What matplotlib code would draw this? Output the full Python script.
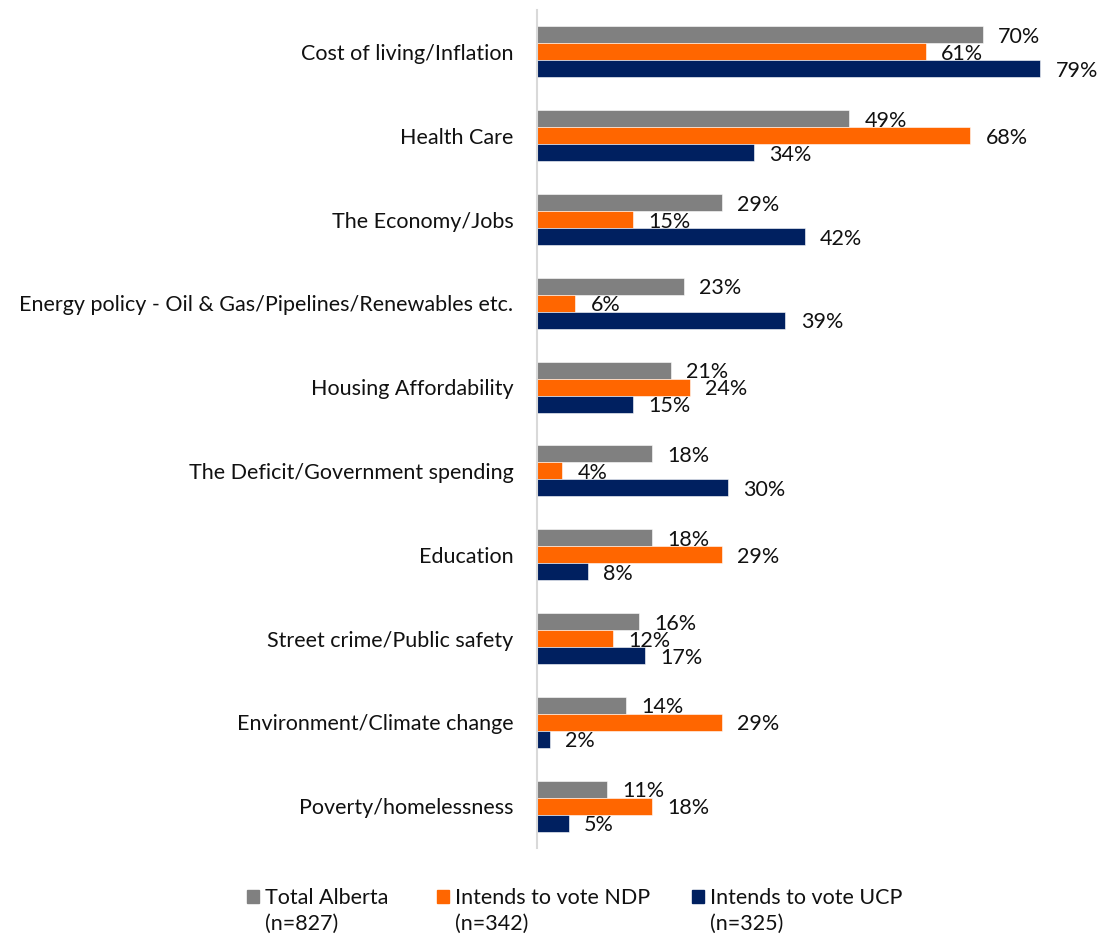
import numpy as np
import matplotlib.pyplot as plt
from matplotlib.patches import Rectangle

plt.rcParams['font.family'] = ['Lato', 'DejaVu Sans']

categories = ['Cost of living/Inflation', 'Health Care', 'The Economy/Jobs',
              'Energy policy - Oil & Gas/Pipelines/Renewables etc.',
              'Housing Affordability', 'The Deficit/Government spending',
              'Education', 'Street crime/Public safety',
              'Environment/Climate change', 'Poverty/homelessness']
total = [70, 49, 29, 23, 21, 18, 18, 16, 14, 11]
ndp = [61, 68, 15, 6, 24, 4, 29, 12, 29, 18]
ucp = [79, 34, 42, 39, 15, 30, 8, 17, 2, 5]

series = [
    ('Total Alberta\n(n=827)', total, '#808080'),
    ('Intends to vote NDP\n(n=342)', ndp, '#FF6600'),
    ('Intends to vote UCP\n(n=325)', ucp, '#002060'),
]

FS = 15.5
W, H, DPI = 1099, 936, 100
fig = plt.figure(figsize=(W / DPI, H / DPI), dpi=DPI)
ax = fig.add_axes([537 / W, 1 - 848 / H, (1090 - 537) / W, (848 - 10) / H])

y = np.arange(len(categories))
bh = 0.203
for i, (name, vals, col) in enumerate(series):
    pos = y + (i - 1) * bh
    ax.barh(pos, vals, height=bh, color=col, edgecolor='white', linewidth=0.4)
    for p, v in zip(pos, vals):
        ax.annotate(f'{v}%', (v, p), xytext=(11, -1.5), textcoords='offset points',
                    ha='left', va='center', fontsize=FS, color='#111111')

ax.set_xlim(0, 86.8)
ax.set_ylim(len(categories) - 0.5, -0.5)
ax.set_yticks(y)
ax.set_yticklabels(categories, fontsize=FS, color='#111111')
ax.tick_params(axis='y', length=0, pad=17)
ax.set_xticks([])
for s in ['top', 'right', 'bottom']:
    ax.spines[s].set_visible(False)
ax.spines['left'].set_color('#d9d9d9')
ax.spines['left'].set_linewidth(1.5)

# legend row along the bottom
leg_x = [247, 437, 692]
for (name, vals, col), lx in zip(series, leg_x):
    fig.patches.append(Rectangle((lx / W, 1 - 903 / H), 12 / W, 13 / H,
                                 transform=fig.transFigure, color=col))
    fig.text((lx + 18) / W, 1 - 911 / H, name, fontsize=FS, color='#111111',
             ha='left', va='center', linespacing=1.4)

fig.savefig('out.png', dpi=DPI)
